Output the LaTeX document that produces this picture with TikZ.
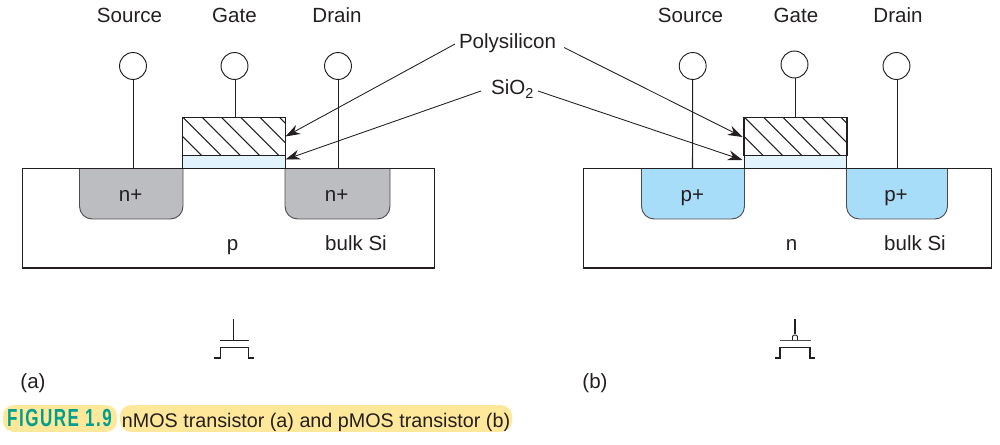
\documentclass[tikz,border=0pt]{standalone}
\usepackage{fontspec}
\setmainfont{Liberation Sans}
\usetikzlibrary{arrows.meta}
\definecolor{ink}{HTML}{231F20}
\definecolor{welln}{HTML}{BCBDC0}
\definecolor{wellp}{HTML}{A8DDF9}
\definecolor{oxide}{HTML}{E1F3FC}
\definecolor{capy}{HTML}{FFE89A}
\definecolor{capt}{HTML}{009E8E}
\tikzset{
  x=0.75pt,y=-0.75pt,
  lbl/.style={anchor=base,inner sep=0pt,text=ink,font=\fontsize{15.4}{18}\selectfont},
  term/.style={circle,draw=ink,line width=0.7pt,fill=white,minimum size=20.2pt,inner sep=0pt},
  wire/.style={draw=ink,line width=0.8pt},
  bulk/.style={draw=ink,line width=0.8pt},
  wellshape/.style={draw=gray!60!black,line width=0.7pt,rounded corners=9.5pt},
  polybox/.style={rectangle,draw=ink,line width=0.8pt,minimum width=77pt,minimum height=28.2pt,inner sep=0pt},
  oxbox/.style={rectangle,draw=ink,line width=0.8pt,fill=oxide,minimum width=77pt,minimum height=9.75pt,inner sep=0pt},
  hatch/.style={draw=ink,line width=0.8pt},
  callout/.style={draw=ink,line width=0.65pt,-{Stealth[length=11pt,width=7.5pt]}},
  sym/.style={draw=ink,line width=0.9pt},
  capbg/.style={rectangle,rounded corners=8pt,fill=capy,inner sep=0pt,minimum height=20pt}
}
\begin{document}
\begin{tikzpicture}
\useasboundingbox (0,0) rectangle (1000,445);
% left device
\path[wellshape,fill=welln] (79.5,168.5) -- (79.5,219) -- (183,219) -- (183,168.5);
\path[wellshape,fill=welln] (285,168.5) -- (285,219) -- (390,219) -- (390,168.5);
\draw[bulk] (22.5,168.5) rectangle (434.5,268);
\node[oxbox] (oxa) at (234,162) {};
\node[polybox] (polya) at (234,136.5) {};
\begin{scope}
  \clip (182.5,117.5) rectangle (285.5,155.5);
  \foreach \k in {0,...,7} \draw[hatch] ({183+\k*19.3-38.6},117.5) -- ++(40,40);
\end{scope}
\draw[line width=0.8pt,draw=ink] (polya.north west) rectangle (polya.south east);
% right device
\path[wellshape,fill=wellp] (641.5,168.5) -- (641.5,219) -- (744.5,219) -- (744.5,168.5);
\path[wellshape,fill=wellp] (846.5,168.5) -- (846.5,219) -- (947.5,219) -- (947.5,168.5);
\draw[bulk] (583.5,168.5) rectangle (991.5,268);
\node[oxbox] (oxb) at (795.5,162) {};
\node[polybox] (polyb) at (795.5,136.5) {};
\begin{scope}
  \clip (744,117.5) rectangle (847,155.5);
  \foreach \k in {0,...,7} \draw[hatch] ({744.5+\k*19.3-38.6},117.5) -- ++(40,40);
\end{scope}
\draw[line width=0.8pt,draw=ink] (polyb.north west) rectangle (polyb.south east);
% terminals
\node[term] (sa) at (133,66) {};
\node[term] (ga) at (234.5,66) {};
\node[term] (da) at (338,66) {};
\node[term] (sb) at (692.7,66) {};
\node[term] (gb) at (794.5,64.5) {};
\node[term] (db) at (896.5,66) {};
\coordinate (csa) at (133.5,168.5);
\coordinate (cda) at (338.5,168.5);
\coordinate (csb) at (692.5,168.5);
\coordinate (cdb) at (897.5,168.5);
\draw[wire] (sa.south) ++(0.5,0) -- (csa);
\draw[wire] (ga.south) ++(1,0) -- ++(0,38);
\draw[wire] (da.south) ++(0.5,0) -- (cda);
\draw[wire] (sb.south) -- (csb);
\draw[wire] (gb.south) ++(1,0) -- ++(0,39.5);
\draw[wire] (db.south) ++(1,0) -- (cdb);
% labels
\node[lbl] (ls1) at (129.5,23) {Source};
\node[lbl] (lg1) at (234.5,23) {Gate};
\node[lbl] (ld1) at (337,23) {Drain};
\node[lbl] (ls2) at (690.5,23) {Source};
\node[lbl] (lg2) at (796,23) {Gate};
\node[lbl] (ld2) at (898,23) {Drain};
\node[lbl] (npa) at (130.7,201.5) {n+};
\node[lbl] (npb) at (336.7,201.5) {n+};
\node[lbl] (ppa) at (692.3,201.5) {p+};
\node[lbl] (ppb) at (896,201.5) {p+};
\node[lbl] (pl) at (232.5,250.5) {p};
\node[lbl] (bsa) at (356,250.5) {bulk Si};
\node[lbl] (nl) at (791.7,250.5) {n};
\node[lbl] (bsb) at (915,250.5) {bulk Si};
\node[lbl] (pol) at (507.5,49) {Polysilicon};
\node[lbl] (sio) at (512.5,95) {SiO\textsubscript{2}};
\node[lbl] (cap1) at (33,388) {(a)};
\node[lbl] (cap2) at (595,388) {(b)};
% callouts
\coordinate (ta) at (285.5,136.5);
\coordinate (tb) at (285.5,159.5);
\coordinate (tc) at (742.5,137);
\coordinate (td) at (742.5,160);
\coordinate (pa) at (455,44);
\coordinate (pb) at (481,91);
\coordinate (pc) at (564,47.5);
\coordinate (pd) at (538,91);
\draw[callout] (pa) -- (ta);
\draw[callout] (pb) -- (tb);
\draw[callout] (pc) -- (tc);
\draw[callout] (pd) -- (td);
% symbols
\draw[sym] (233.5,319) -- (233.5,340.5);
\draw[sym] (220,340.5) -- (249,340.5);
\draw[sym] (214,358) -- (220.5,358) -- (220.5,347.5) -- (248.5,347.5) -- (248.5,358) -- (254,358);
\draw[sym] (795,319) -- (795,334);
\draw[sym,line width=0.7pt] (792.5,340) -- (792.5,336.5) .. controls (793,334.5) and (797,334.5) .. (797.5,336.5) -- (797.5,340);
\draw[sym,draw=ink!80] (780,340.5) -- (811,340.5);
\draw[sym] (775,358) -- (780,358) -- (780,347.5) -- (810,347.5) -- (810,358) -- (815,358);
% caption
\node[capbg,minimum width=85.5pt] (capa) at (60,418.5) {};
\node[capbg,minimum width=294pt] (capb) at (316,418.5) {};
\node[anchor=base,inner sep=0pt,text=capt,font=\fontsize{18.5}{20}\selectfont\bfseries] (figt) at (59.5,426.5) {\addfontfeature{FakeStretch=0.69,LetterSpace=6}FIGURE 1.9};
\node[lbl,font=\fontsize{14.8}{18}\selectfont] (figc) at (316,427) {nMOS transistor (a) and pMOS transistor (b)};
\end{tikzpicture}
\end{document}
